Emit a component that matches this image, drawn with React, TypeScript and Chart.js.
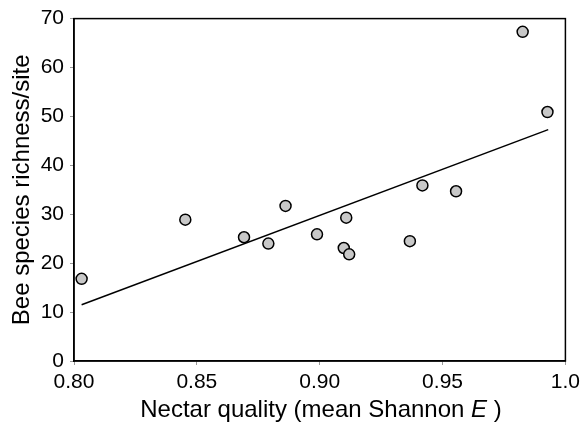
import React, { useEffect, useRef } from "react";
import { Chart, registerables } from "chart.js";

Chart.register(...registerables);

const nectarQuality = [0.8031, 0.8453, 0.8692, 0.8791, 0.8861, 0.8989, 0.9108, 0.9098, 0.912, 0.9367, 0.9418, 0.9555, 0.9826, 0.9927];
const beeRichness = [16.8, 28.9, 25.3, 24.0, 31.7, 25.9, 29.3, 23.1, 21.8, 24.5, 35.9, 34.7, 67.3, 50.9];
const fitX = [0.8031, 0.993];
const fitY = [11.5, 47.3];
const xTickValues = [0.8, 0.85, 0.9, 0.95, 1.0];
const xTickLabels = ["0.80", "0.85", "0.90", "0.95", "1.0"];
const yTickValues = [0, 10, 20, 30, 40, 50, 60, 70];
const yTickLabels = ["0", "10", "20", "30", "40", "50", "60", "70"];

const FONT = "'Liberation Sans', Arial, Helvetica, sans-serif";
const W = 585;
const H = 426;
const AREA = { left: 74, right: 568, top: 16, bottom: 361 };

const frame = {
  id: "frame",
  afterDatasetsDraw(chart: any) {
    const { ctx, chartArea } = chart;
    ctx.save();
    ctx.strokeStyle = "#000";
    ctx.lineWidth = 1.5;
    ctx.strokeRect(chartArea.left, chartArea.top, chartArea.right - chartArea.left, chartArea.bottom - chartArea.top);
    ctx.restore();
  },
};

export default function App() {
  const ref = useRef<HTMLCanvasElement>(null);
  useEffect(() => {
    if (!ref.current) return;
    const chart = new Chart(ref.current, {
      type: "scatter",
      data: {
        datasets: [
          {
            type: "line",
            data: fitX.map((x, i) => ({ x, y: fitY[i] })),
            borderColor: "#000",
            borderWidth: 1.5,
            pointRadius: 0,
            fill: false,
            order: 2,
          } as any,
          {
            data: nectarQuality.map((x, i) => ({ x, y: beeRichness[i] })),
            backgroundColor: "#c8c8c8",
            borderColor: "#000",
            borderWidth: 1.5,
            pointRadius: 5.5,
            order: 1,
          },
        ],
      },
      options: {
        animation: false,
        responsive: false,
        devicePixelRatio: 1,
        layout: { padding: { top: AREA.top, right: W - AREA.right, left: 0, bottom: 0 } },
        plugins: { legend: { display: false }, tooltip: { enabled: false } },
        scales: {
          x: {
            type: "linear",
            min: 0.8,
            max: 1.0,
            afterBuildTicks: (s: any) => {
              s.ticks = xTickValues.map((v) => ({ value: v }));
            },
            afterFit: (s: any) => {
              s.height = H - AREA.bottom;
            },
            ticks: {
              callback: (v: any) => {
                const i = xTickValues.findIndex((t) => Math.abs(t - Number(v)) < 1e-9);
                return i >= 0 ? xTickLabels[i] : "";
              },
              color: "#000",
              font: { family: FONT, size: 21 },
              padding: 5,
              maxRotation: 0,
              autoSkip: false,
            },
            grid: { drawOnChartArea: false, drawTicks: true, tickLength: 4, color: "#999" },
            border: { display: true, color: "#000", width: 1.5 },
          },
          y: {
            type: "linear",
            min: 0,
            max: 70,
            afterBuildTicks: (s: any) => {
              s.ticks = yTickValues.map((v) => ({ value: v }));
            },
            afterFit: (s: any) => {
              s.width = AREA.left;
            },
            ticks: {
              callback: (v: any) => {
                const i = yTickValues.indexOf(Number(v));
                return i >= 0 ? yTickLabels[i] : "";
              },
              color: "#000",
              font: { family: FONT, size: 21 },
              padding: 6,
            },
            title: {
              display: true,
              text: "Bee species richness/site",
              color: "#000",
              font: { family: FONT, size: 24 },
              padding: { top: 8, bottom: 0 },
            },
            grid: { drawOnChartArea: false, drawTicks: true, tickLength: 4, color: "#999" },
            border: { display: true, color: "#000", width: 1.5 },
          },
        },
      },
      plugins: [frame],
    });
    return () => chart.destroy();
  }, []);

  return (
    <div style={{ position: "fixed", left: 0, top: 0, width: W, height: H, background: "#fff" }}>
      <canvas ref={ref} width={W} height={H} style={{ width: W, height: H, display: "block" }} />
      <div
        style={{
          position: "absolute",
          left: AREA.left,
          width: AREA.right - AREA.left,
          top: 395,
          textAlign: "center",
          fontFamily: FONT,
          fontSize: 24,
          lineHeight: "28px",
          color: "#000",
          whiteSpace: "nowrap",
        }}
      >
        Nectar quality (mean Shannon <i>E</i> )
      </div>
    </div>
  );
}
